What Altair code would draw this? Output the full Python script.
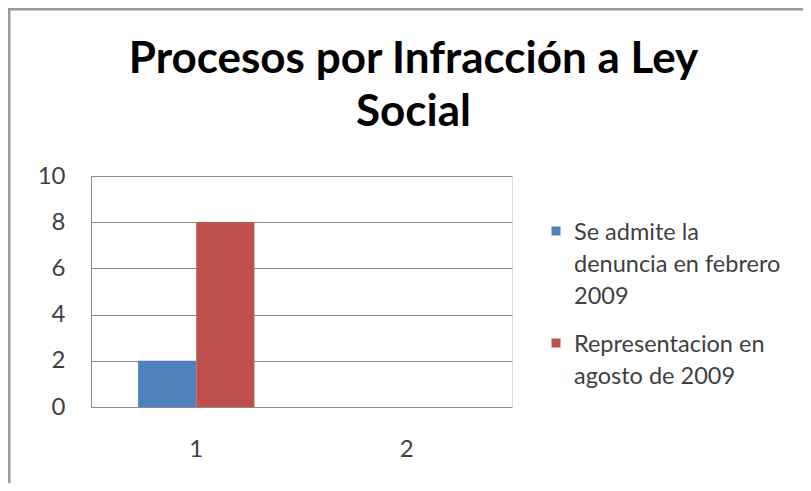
import altair as alt
import pandas as pd

categories = ["1", "2"]
series = ["Se admite la denuncia en febrero 2009", "Representacion en agosto de 2009"]
legend_labels = ["Se admite la\ndenuncia en febrero\n2009", "Representacion en\nagosto de 2009"]
values_cat1 = [2, 8]
colors = ["#4F81BD", "#C0504D"]
y_ticks = [0, 2, 4, 6, 8, 10]
title_lines = ["Procesos por Infracción a Ley", "Social"]

FONT = "Lato"
TXT = "#404040"
GRID = "#8C8C8C"

bars_df = pd.DataFrame({"cat": [categories[0]] * len(series), "series": series, "value": values_cat1})
legend_df = pd.DataFrame({"series": series, "label": legend_labels})
frame_df = pd.DataFrame({"a": [0]})

color_scale = alt.Scale(domain=series, range=colors)

bars = alt.Chart(bars_df).mark_bar(stroke=None).encode(
    x=alt.X("cat:N", scale=alt.Scale(domain=categories, paddingInner=0, paddingOuter=0),
            axis=alt.Axis(title=None, labelAngle=0, domain=False, ticks=False, tickSize=0,
                          labelPadding=30, labelFontSize=24, labelFont=FONT, labelColor=TXT, grid=False)),
    xOffset=alt.XOffset("series:N", scale=alt.Scale(domain=series, paddingInner=0, paddingOuter=0.81)),
    y=alt.Y("value:Q", scale=alt.Scale(domain=[0, 10], nice=False),
            axis=alt.Axis(values=y_ticks, title=None, grid=True, gridColor=GRID, gridOpacity=1,
                          ticks=False, tickSize=0, domainColor=GRID, labelPadding=26,
                          labelFontSize=24, labelFont=FONT, labelColor=TXT)),
    color=alt.Color("series:N", scale=color_scale, legend=None),
)

leg_y = alt.Y("series:N", scale=alt.Scale(type="point", domain=series, range=[55, 167], padding=0), axis=None)

leg_sym = alt.Chart(legend_df).mark_square(size=81, opacity=1).encode(
    x=alt.value(465), y=leg_y,
    color=alt.Color("series:N", scale=color_scale, legend=None),
)
leg_txt = alt.Chart(legend_df).mark_text(
    align="left", baseline="top", dy=-10, lineBreak="\n", lineHeight=32,
    fontSize=23.5, font=FONT, color=TXT,
).encode(x=alt.value(483), y=leg_y, text="label:N")

frame_top = alt.Chart(frame_df).mark_rule(color="#9A9A9A", strokeWidth=3).encode(
    x=alt.value(-83), x2=alt.value(712), y=alt.value(-167))
frame_left = alt.Chart(frame_df).mark_rule(color="#9A9A9A", strokeWidth=3).encode(
    x=alt.value(-82), y=alt.value(-168), y2=alt.value(310))

chart = alt.layer(bars, leg_sym, leg_txt, frame_top, frame_left).resolve_scale(
    y="independent"
).properties(
    width=421, height=231,
    autosize=alt.AutoSizeParams(type="none"),
    padding={"left": 83, "top": 168, "right": 291, "bottom": 76},
    title=alt.Title(title_lines, anchor="middle", frame="group", dx=112, fontSize=44,
                    font=FONT, fontWeight="bold", color="black", lineHeight=53,
                    baseline="alphabetic", offset=-163),
).configure_view(stroke=None).configure(background="white")

chart.save("out.html", embed_options={"renderer": "svg", "actions": False})
